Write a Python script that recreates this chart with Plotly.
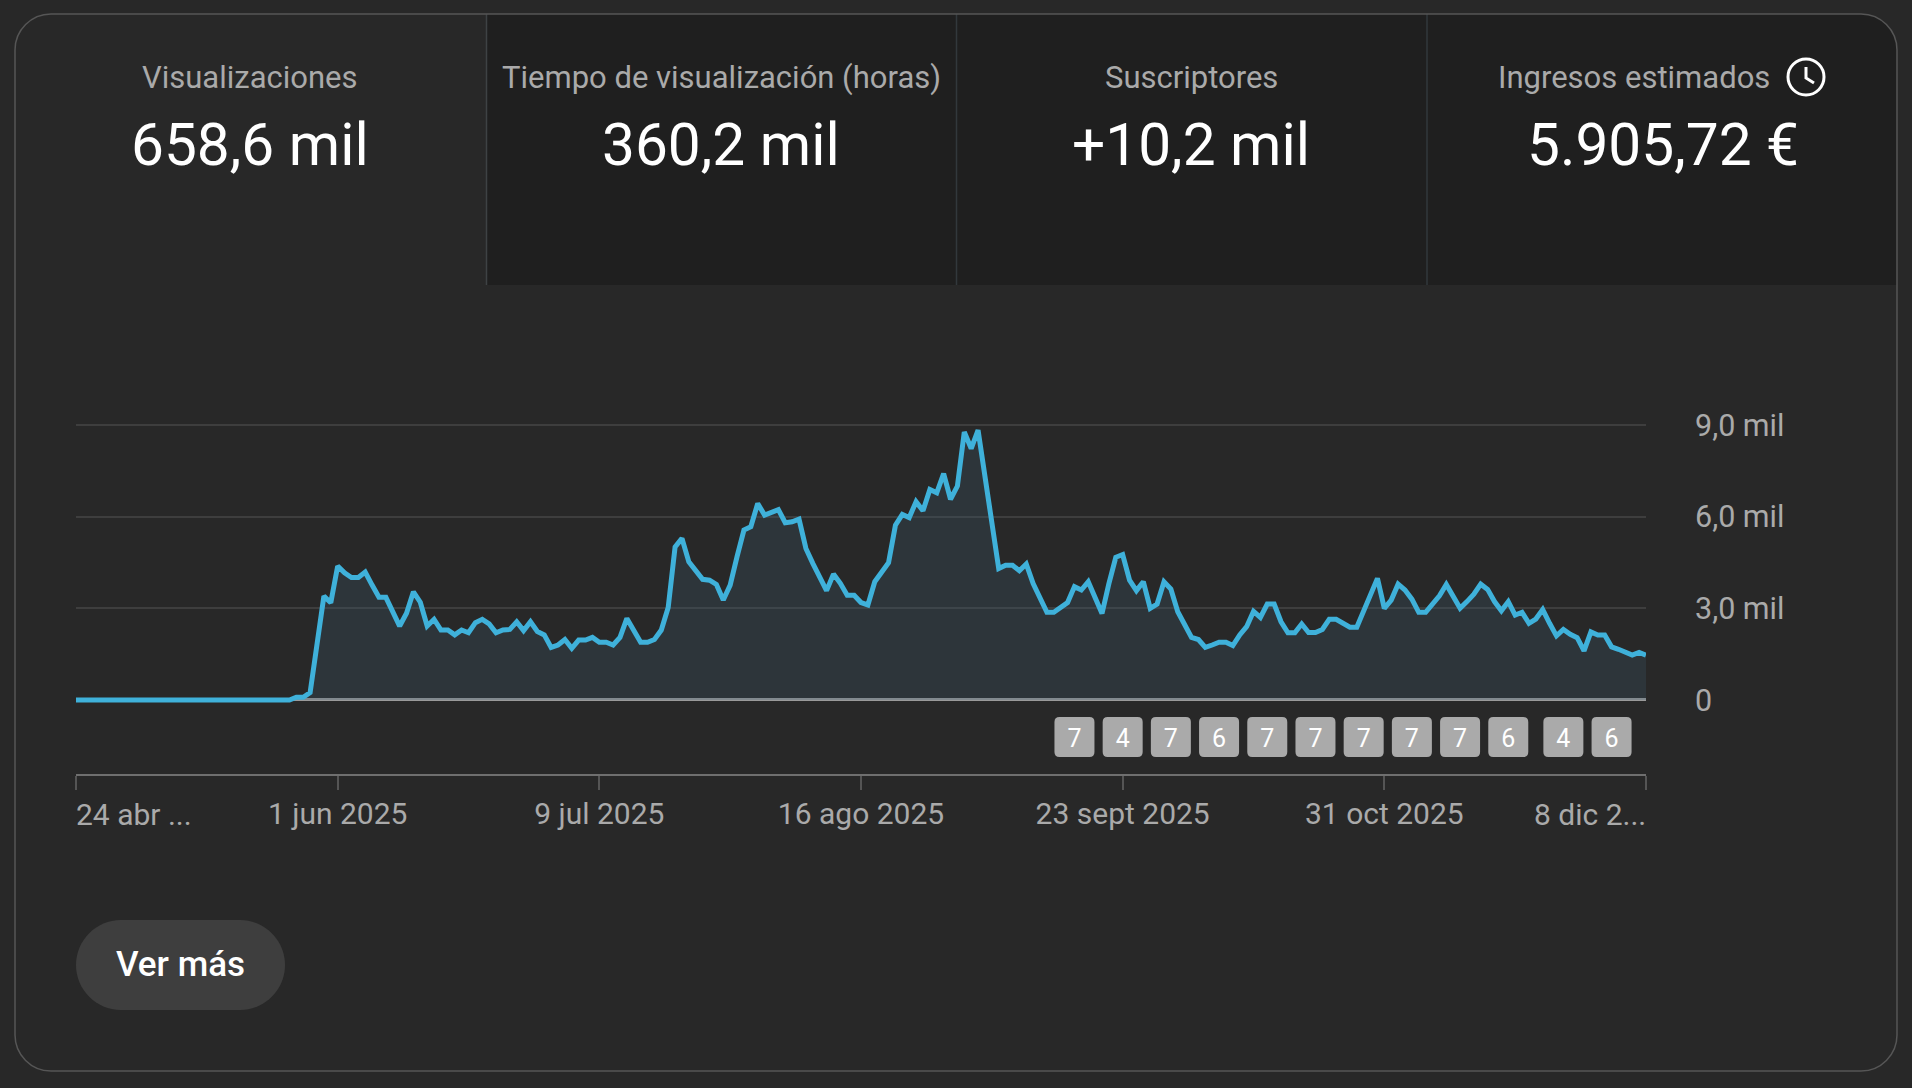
import pandas as pd
import plotly.graph_objects as go

W = 1912
H = 1088

START_DATE = "2025-04-24"
END_DATE = "2025-12-08"

# visualizaciones por dia (24 abr 2025 en adelante)
VIEWS = [0] * 32 + [
    90, 90, 240, 1850, 3400, 3180, 4380, 4160, 4010, 4010, 4190, 3760, 3360, 3360, 2920,
    2420, 2840, 3540, 3200, 2420, 2640, 2290, 2290, 2130, 2290, 2200, 2530, 2640, 2490, 2200,
    2290, 2310, 2560, 2270, 2560, 2240, 2130, 1720, 1800, 1980, 1690, 1960, 1960, 2050, 1890,
    1890, 1800, 2050, 2670, 2310, 1890, 1890, 1980, 2290, 3030, 5010, 5290, 4520, 4250, 3950,
    3920, 3780, 3270, 3760, 4690, 5560, 5670, 6430, 6050, 6160, 6230, 5800, 5830, 5920, 4960,
    4470, 4030, 3580, 4120, 3820, 3430, 3430, 3190, 3110, 3870, 4200, 4490, 5720, 6070, 5970,
    6490, 6190, 6890, 6780, 7410, 6570, 7000, 8770, 8230, 8830, 7300, 5610, 4300, 4410, 4410,
    4230, 4450, 3810, 3380, 2870, 2870, 3030, 3190, 3710, 3600, 3870, 3380, 2830, 3810, 4670,
    4760, 3920, 3580, 3870, 3000, 3140, 3870, 3630, 2890, 2450, 2050, 1980, 1720, 1800, 1890,
    1890, 1780, 2130, 2400, 2900, 2700, 3140, 3140, 2560, 2200, 2200, 2490, 2210, 2210, 2310,
    2640, 2640, 2490, 2380, 2380, 2890, 3380, 3980, 3000, 3270, 3790, 3600, 3300, 2870, 2870,
    3160, 3410, 3780, 3380, 3000, 3220, 3460, 3790, 3620, 3220, 2920, 3220, 2780, 2870, 2510,
    2650, 2960, 2510, 2100, 2310, 2150, 2040, 1610, 2230, 2130, 2130, 1740, 1660, 1580, 1470,
    1560, 1470,
]

X_TICK_DATES = ["2025-04-24", "2025-06-01", "2025-07-09", "2025-08-16", "2025-09-23", "2025-10-31", "2025-12-08"]
X_TICK_TEXT = ["", "1 jun 2025", "9 jul 2025", "16 ago 2025", "23 sept 2025", "31 oct 2025", ""]
X_FIRST_LABEL = "24 abr ..."
X_LAST_LABEL = "8 dic 2..."

Y_TICKS = [0, 3000, 6000, 9000]
Y_TICK_TEXT = ["0", "3,0 mil", "6,0 mil", "9,0 mil"]

BADGE_DATES = ["2025-09-16", "2025-09-23", "2025-09-30", "2025-10-07", "2025-10-14", "2025-10-21",
               "2025-10-28", "2025-11-04", "2025-11-11", "2025-11-18", "2025-11-26", "2025-12-03"]
BADGE_COUNTS = [7, 4, 7, 6, 7, 7, 7, 7, 7, 6, 4, 6]

TAB_LABELS = ["Visualizaciones", "Tiempo de visualización (horas)", "Suscriptores", "Ingresos estimados"]
TAB_VALUES = ["658,6 mil", "360,2 mil", "+10,2 mil", "5.905,72 €"]

BG = "#282828"
TAB_BG = "#1f1f1f"
BORDER = "#565656"
GRID = "#3e3e3e"
GRAY_TEXT = "#aaaaaa"
LINE_BLUE = "#3fb1da"
FONT = "Roboto"


def fx(px):
    return px / W


def fy(py):
    return 1 - py / H


def round_rect(x0, y0, x1, y1, r_tl, r_tr, r_br, r_bl):
    # rectangulo redondeado en pixeles, pasado a coordenadas paper
    k = 0.45
    def c(a, b):
        return f"{fx(a):.5f},{fy(b):.5f}"
    p = "M " + c(x0 + r_tl, y0)
    p += " L " + c(x1 - r_tr, y0)
    p += " C " + c(x1 - r_tr * k, y0) + " " + c(x1, y0 + r_tr * k) + " " + c(x1, y0 + r_tr)
    p += " L " + c(x1, y1 - r_br)
    p += " C " + c(x1, y1 - r_br * k) + " " + c(x1 - r_br * k, y1) + " " + c(x1 - r_br, y1)
    p += " L " + c(x0 + r_bl, y1)
    p += " C " + c(x0 + r_bl * k, y1) + " " + c(x0, y1 - r_bl * k) + " " + c(x0, y1 - r_bl)
    p += " L " + c(x0, y0 + r_tl)
    p += " C " + c(x0, y0 + r_tl * k) + " " + c(x0 + r_tl * k, y0) + " " + c(x0 + r_tl, y0)
    return p + " Z"


dates = pd.date_range(START_DATE, periods=len(VIEWS), freq="D")

fig = go.Figure()

fig.add_trace(go.Scatter(
    x=dates, y=VIEWS, mode="lines",
    line=dict(color=LINE_BLUE, width=5),
    fill="tozeroy", fillcolor="rgba(60,90,110,0.25)",
    hoverinfo="skip", showlegend=False,
))

badge_text_y = [-1325] * len(BADGE_DATES)
fig.add_trace(go.Scatter(
    x=BADGE_DATES, y=badge_text_y, mode="text",
    text=[str(c) for c in BADGE_COUNTS],
    textfont=dict(family=FONT, size=25, color="white"),
    textposition="middle center",
    hoverinfo="skip", showlegend=False,
))

shapes = []

# pestañas de arriba
shapes.append(dict(type="path", xref="paper", yref="paper", layer="below", line_width=0,
                   fillcolor=TAB_BG, path=round_rect(486.5, 14, 1427, 285, 0, 0, 0, 0)))
shapes.append(dict(type="path", xref="paper", yref="paper", layer="below", line_width=0,
                   fillcolor=TAB_BG, path=round_rect(1427, 14, 1897, 285, 0, 36, 0, 0)))
for sep_x, sep_col in [(486.5, "#3e4244"), (956.5, "#32383c"), (1427, "#32383c")]:
    shapes.append(dict(type="line", xref="paper", yref="paper", layer="below",
                       x0=fx(sep_x), x1=fx(sep_x), y0=fy(14), y1=fy(285),
                       line=dict(color=sep_col, width=1.5)))

# borde de la tarjeta
shapes.append(dict(type="path", xref="paper", yref="paper", layer="below",
                   line=dict(color=BORDER, width=1.5),
                   path=round_rect(15, 14, 1897, 1071, 36, 36, 36, 36)))

# boton
shapes.append(dict(type="path", xref="paper", yref="paper", layer="below", line_width=0,
                   fillcolor="#3e3e3e", path=round_rect(76, 920, 285, 1010, 45, 45, 45, 45)))

# reloj
shapes.append(dict(type="circle", xref="paper", yref="paper", layer="above",
                   x0=fx(1788), x1=fx(1824), y0=fy(59), y1=fy(95),
                   line=dict(color="white", width=3)))
shapes.append(dict(type="path", xref="paper", yref="paper", layer="above",
                   path=f"M {fx(1806):.5f},{fy(67):.5f} L {fx(1806):.5f},{fy(78):.5f} L {fx(1814):.5f},{fy(83):.5f}",
                   line=dict(color="white", width=3)))

# etiquetas grises con las semanas
for d in BADGE_DATES:
    shapes.append(dict(type="path", xref="x", yref="y", xsizemode="pixel", ysizemode="pixel",
                       xanchor=d, yanchor=-1210, layer="below", line_width=0, fillcolor="#aaaaaa",
                       path="M -15,-20 L 15,-20 Q 20,-20 20,-15 L 20,15 Q 20,20 15,20 "
                            "L -15,20 Q -20,20 -20,15 L -20,-15 Q -20,-20 -15,-20 Z"))

annotations = []

tab_centers = [250, 721, 1191, 1663]
for i in range(4):
    annotations.append(dict(xref="paper", yref="paper", x=fx(tab_centers[i]), y=fy(144.5), showarrow=False,
                            text=TAB_VALUES[i], xanchor="center", yanchor="middle",
                            font=dict(family=FONT, size=58.6, color="white")))
    if i < 3:
        annotations.append(dict(xref="paper", yref="paper", x=fx(tab_centers[i]), y=fy(77), showarrow=False,
                                text=TAB_LABELS[i], xanchor="center", yanchor="middle",
                                font=dict(family=FONT, size=31, color=GRAY_TEXT)))
annotations.append(dict(xref="paper", yref="paper", x=fx(1495.5), y=fy(77), showarrow=False,
                        text=TAB_LABELS[3], xanchor="left", yanchor="middle",
                        font=dict(family=FONT, size=31, color=GRAY_TEXT)))

annotations.append(dict(xref="paper", yref="paper", x=fx(180), y=fy(964), showarrow=False,
                        text="Ver más", xanchor="center", yanchor="middle",
                        font=dict(family=FONT, size=35, color="white", weight=500)))

annotations.append(dict(xref="x", yref="paper", x=X_TICK_DATES[0], y=fy(814.5), showarrow=False,
                        text=X_FIRST_LABEL, xanchor="left", yanchor="middle", xshift=-2,
                        font=dict(family=FONT, size=30, color=GRAY_TEXT)))
annotations.append(dict(xref="x", yref="paper", x=X_TICK_DATES[-1], y=fy(814.5), showarrow=False,
                        text=X_LAST_LABEL, xanchor="right", yanchor="middle", xshift=2,
                        font=dict(family=FONT, size=30, color=GRAY_TEXT)))

fig.update_layout(
    width=W, height=H,
    margin=dict(l=0, r=0, t=0, b=0, autoexpand=False),
    paper_bgcolor=BG, plot_bgcolor=BG,
    showlegend=False,
    shapes=shapes,
    annotations=annotations,
    font=dict(family=FONT),
    xaxis=dict(
        domain=[fx(76), fx(1646)],
        type="date",
        range=[START_DATE, END_DATE],
        tickmode="array", tickvals=X_TICK_DATES, ticktext=X_TICK_TEXT,
        ticks="outside", ticklen=14, tickwidth=2, tickcolor="#555555",
        ticklabelstandoff=-2,
        showline=True, linecolor="#6f6f6f", linewidth=2,
        showgrid=False, zeroline=False,
        tickfont=dict(family=FONT, size=30, color=GRAY_TEXT),
        tickangle=0,
    ),
    yaxis=dict(
        domain=[fy(774), fy(415)],
        range=[-2422, 9327],
        side="right", anchor="x",
        tickmode="array", tickvals=Y_TICKS, ticktext=Y_TICK_TEXT,
        ticks="", ticklabelstandoff=48,
        showgrid=True, gridcolor=GRID, gridwidth=2,
        zeroline=True, zerolinecolor="#9a9a9a", zerolinewidth=3,
        showline=False,
        tickfont=dict(family=FONT, size=30.5, color=GRAY_TEXT),
    ),
)

# puntas en inglete como el original y sin margen del body
post = """
document.body.style.margin = '0';
document.querySelectorAll('.js-line').forEach(function (p) { p.style.strokeLinejoin = 'miter'; });
"""

fig.write_html("out.html", config=dict(displayModeBar=False), post_script=post)
